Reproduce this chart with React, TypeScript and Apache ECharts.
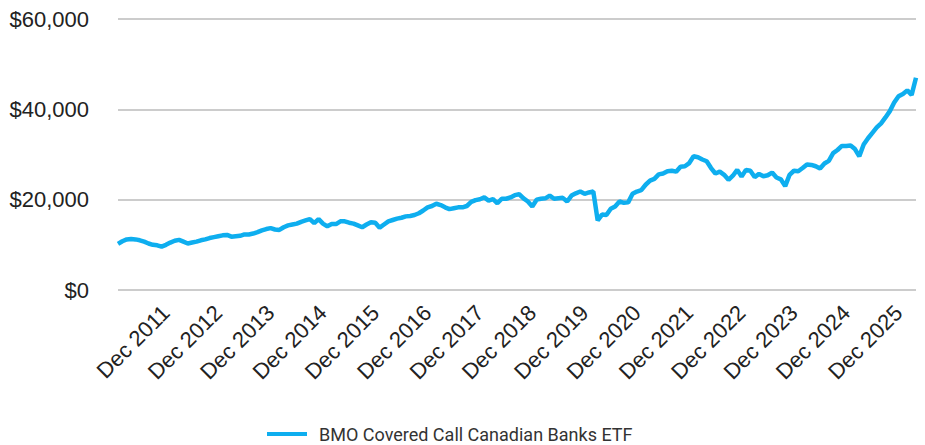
import React, { useEffect, useRef } from "react";
import * as echarts from "echarts";

// Monthly series, Jan 2011 .. Apr 2026 (growth of $10,000)
const START_YEAR = 2011;
const MONTH_NAMES = ["Jan", "Feb", "Mar", "Apr", "May", "Jun", "Jul", "Aug", "Sep", "Oct", "Nov", "Dec"];

const values2011_2013 = [
  10200, 10800, 11200, 11300, 11200, 11000, 10700, 10300, 10000, 9900, 9600, 10000,
  10500, 10900, 11100, 10700, 10300, 10500, 10700, 11000, 11200, 11500, 11700, 11900,
  12100, 12200, 11800, 11900, 12000, 12300, 12300, 12500, 12800, 13200, 13500, 13700,
];
const values2014_2016 = [
  13400, 13300, 13900, 14300, 14500, 14700, 15100, 15400, 15700, 14800, 15700, 14700,
  14100, 14600, 14600, 15200, 15200, 14900, 14700, 14300, 13900, 14500, 15000, 14900,
  13800, 14500, 15200, 15500, 15800, 16000, 16300, 16400, 16600, 17000, 17600, 18300,
];
const values2017_2019 = [
  18600, 19100, 18800, 18300, 17900, 18100, 18300, 18300, 18600, 19500, 19900, 20100,
  20500, 19800, 20100, 19200, 20200, 20200, 20500, 21000, 21200, 20300, 19600, 18500,
  20000, 20200, 20300, 20900, 20200, 20300, 20400, 19600, 20900, 21400, 21800, 21300,
];
const values2020_2022 = [
  21600, 21800, 15400, 16700, 16600, 18000, 18500, 19600, 19300, 19400, 21300, 21800,
  22100, 23300, 24200, 24600, 25600, 25800, 26300, 26400, 26200, 27300, 27400, 28100,
  29600, 29400, 28900, 28500, 27000, 25800, 26200, 25500, 24400, 25300, 26600, 25100,
];
const values2023_2026 = [
  26600, 26400, 25000, 25700, 25200, 25400, 26000, 24900, 24500, 23000, 25500, 26400,
  26300, 27000, 27800, 27700, 27400, 26900, 28000, 28600, 30300, 31000, 31900, 31900,
  32000, 31200, 29600, 32200, 33600, 34800, 36000, 36900, 38200, 39600, 41500, 42900,
  43400, 44200, 43200, 47000,
];

const seriesValues = [
  ...values2011_2013,
  ...values2014_2016,
  ...values2017_2019,
  ...values2020_2022,
  ...values2023_2026,
];

const categories = seriesValues.map((_, i) => {
  const y = START_YEAR + Math.floor(i / 12);
  return `${MONTH_NAMES[i % 12]} ${y}`;
});

const yTicks = { min: 0, max: 60000, interval: 20000 };
const seriesName = "BMO Covered Call Canadian Banks ETF";
const LINE_COLOR = "#0EAEEF";

export default function App() {
  const ref = useRef<HTMLDivElement>(null);

  useEffect(() => {
    if (!ref.current) return;
    const chart = echarts.init(ref.current, undefined, { renderer: "svg" });
    chart.setOption({
      animation: false,
      backgroundColor: "#ffffff",
      grid: { left: 118, right: 9, top: 19, bottom: 155, containLabel: false },
      legend: {
        show: true,
        top: 420,
        left: 262,
        icon: "rect",
        itemWidth: 40,
        itemHeight: 4,
        textStyle: {
          fontFamily: "Roboto",
          fontSize: 18,
          color: "#333333",
          padding: [0, 0, 0, 7],
        },
        data: [seriesName],
      },
      xAxis: {
        type: "category",
        data: categories,
        boundaryGap: false,
        axisLine: { show: false },
        axisTick: { show: false },
        axisLabel: {
          interval: (_idx: number, val: string) => val.startsWith("Dec"),
          rotate: 45,
          margin: 19,
          fontFamily: "Liberation Sans",
          fontSize: 22,
          color: "#222222",
        },
        splitLine: { show: false },
      },
      yAxis: {
        type: "value",
        min: yTicks.min,
        max: yTicks.max,
        interval: yTicks.interval,
        axisLine: { show: false },
        axisTick: { show: false },
        axisLabel: {
          margin: 29,
          fontFamily: "Liberation Sans",
          fontSize: 22,
          color: "#222222",
          formatter: (v: number) => "$" + v.toLocaleString("en-US"),
        },
        splitLine: { lineStyle: { color: "#cccccc", width: 2 } },
      },
      series: [
        {
          name: seriesName,
          type: "line",
          data: seriesValues,
          showSymbol: false,
          symbol: "none",
          lineStyle: { color: LINE_COLOR, width: 4.5 },
          itemStyle: { color: LINE_COLOR },
        },
      ],
    });
    return () => chart.dispose();
  }, []);

  return (
    <div
      ref={ref}
      style={{ position: "fixed", left: 0, top: 0, width: 925, height: 445 }}
    />
  );
}
